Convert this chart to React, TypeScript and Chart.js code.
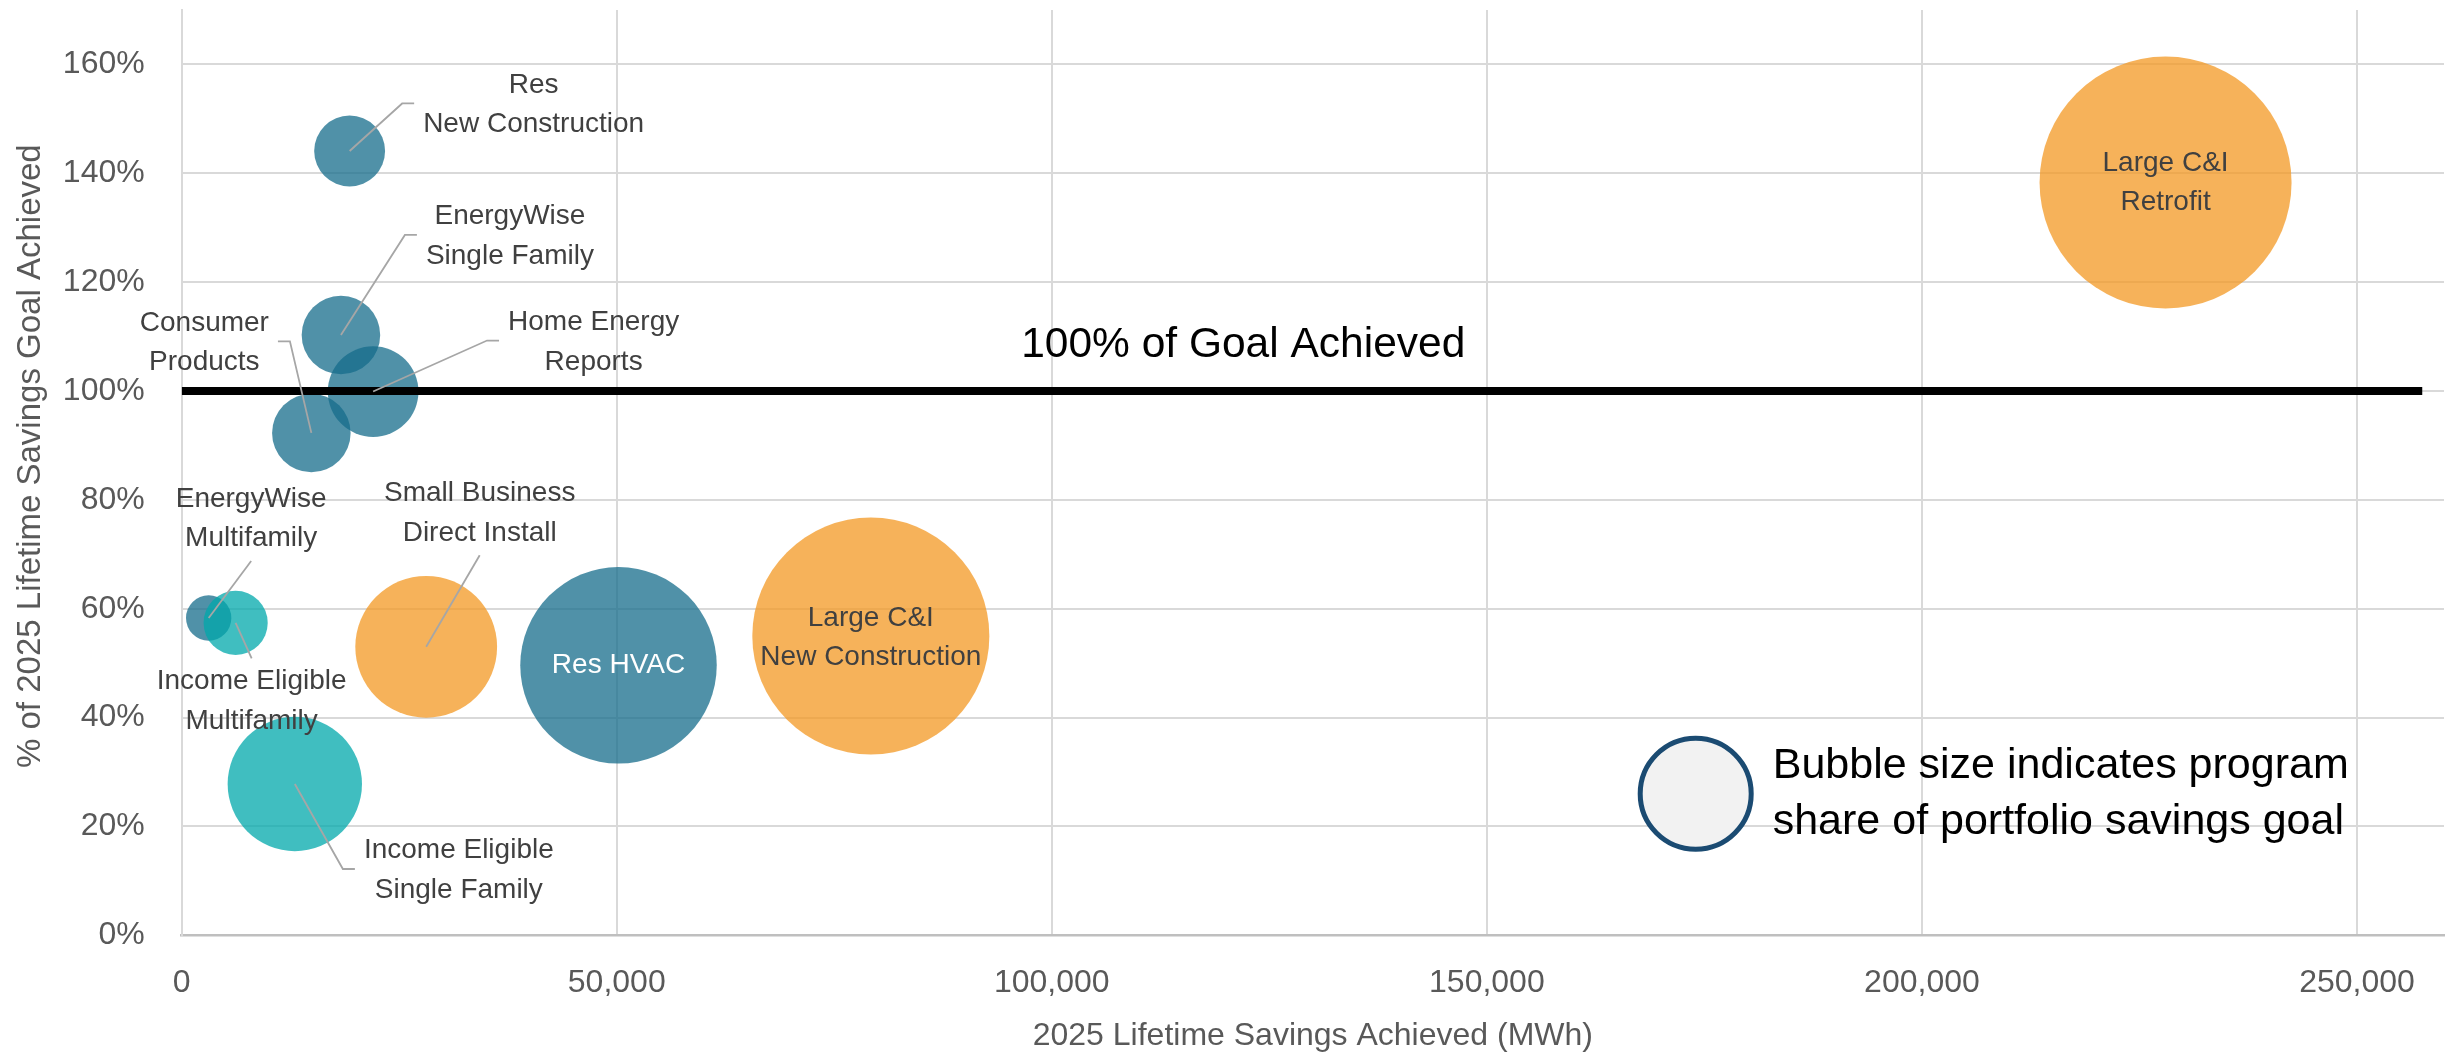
import React, { useEffect, useRef } from 'react';
import { Chart, registerables } from 'chart.js';

Chart.register(...registerables);

// ---------- DATA ----------
const programLabels: string[][] = [
  ['Res', 'New Construction'],
  ['EnergyWise', 'Single Family'],
  ['Home Energy', 'Reports'],
  ['Consumer', 'Products'],
  ['EnergyWise', 'Multifamily'],
  ['Income Eligible', 'Multifamily'],
  ['Small Business', 'Direct Install'],
  ['Res HVAC'],
  ['Large C&I', 'New Construction'],
  ['Income Eligible', 'Single Family'],
  ['Large C&I', 'Retrofit'],
];
const programSector = ['res', 'res', 'res', 'res', 'res', 'ie', 'ci', 'res', 'ci', 'ie', 'ci'];
const savingsMWh = [19300, 18300, 22000, 14900, 3100, 6200, 28100, 50200, 79200, 13000, 228000];
const pctOfGoal = [1.441, 1.103, 0.999, 0.923, 0.583, 0.574, 0.53, 0.496, 0.55, 0.278, 1.383];
const shareOfPortfolioGoal = [2.2, 2.7, 3.6, 2.7, 0.9, 1.8, 8.8, 16.9, 24.6, 7.9, 27.8];

const goalLineX = [0, 257500];
const goalLineY = [1, 1];
const goalLabelText = '100% of Goal Achieved';
const goalLabelX = 122000;

const xTickValues = [0, 50000, 100000, 150000, 200000, 250000];
const yTickValues = [0, 0.2, 0.4, 0.6, 0.8, 1.0, 1.2, 1.4, 1.6];

const legendText = ['Bubble size indicates program', 'share of portfolio savings goal'];
const legendAnchor = { x: 174000, y: 0.26 };

const xTitle = '2025 Lifetime Savings Achieved (MWh)';
const yTitle = '% of 2025 Lifetime Savings Goal Achieved';

// ---------- STYLE ----------
const W = 2458;
const H = 1052;
const FONT = "'Liberation Sans', Arial, Helvetica, sans-serif";
const sectorColor: Record<string, string> = {
  res: 'rgba(22,108,139,0.75)',
  ci: 'rgba(243,152,35,0.75)',
  ie: 'rgba(0,168,171,0.75)',
};
const sectorOrder: Record<string, number> = { ie: 1, ci: 2, res: 3 };
const R_MAX = 126;
const LABEL_SIZE = 28;
const LABEL_LINE = 39.5;
const LABEL_COLOR = '#404040';
const LEADER_COLOR = '#a6a6a6';

// label placement relative to bubble centre (px)
const labelPlacement = [
  { dx: 184, dy: -46, mode: 'right' },
  { dx: 169, dy: -98.5, mode: 'right' },
  { dx: 220.5, dy: -49.5, mode: 'right' },
  { dx: -107, dy: -90, mode: 'left' },
  { dx: 42.5, dy: -99, mode: 'above' },
  { dx: 16, dy: 78.5, mode: 'below' },
  { dx: 53.5, dy: -133.5, mode: 'above' },
  { dx: 0, dy: 0, mode: 'center', color: '#ffffff' },
  { dx: 0, dy: 2, mode: 'center' },
  { dx: 164, dy: 86.5, mode: 'right' },
  { dx: 0, dy: 0, mode: 'center' },
];

const maxShare = Math.max(...shareOfPortfolioGoal);
const radiusFor = (share: number) => R_MAX * Math.sqrt(share / maxShare);

function drawLabel(ctx: CanvasRenderingContext2D, cx: number, cy: number, lines: string[], place: any) {
  const lx = cx + place.dx;
  const ly = cy + place.dy;
  ctx.font = `${LABEL_SIZE}px ${FONT}`;
  const w = Math.max(...lines.map((l) => ctx.measureText(l).width));
  if (place.mode !== 'center') {
    ctx.beginPath();
    ctx.strokeStyle = LEADER_COLOR;
    ctx.lineWidth = 1.8;
    ctx.moveTo(cx, cy);
    if (place.mode === 'right') {
      const near = lx - w / 2 - 9;
      const far = near - 12;
      ctx.lineTo(far, ly - 1.5);
      ctx.lineTo(near, ly - 1.5);
    } else if (place.mode === 'left') {
      const near = lx + w / 2 + 9;
      const far = near + 12;
      ctx.lineTo(far, ly - 1.5);
      ctx.lineTo(near, ly - 1.5);
    } else if (place.mode === 'above') {
      ctx.lineTo(lx, ly + 42);
    } else if (place.mode === 'below') {
      ctx.lineTo(lx, ly - 43);
    }
    ctx.stroke();
  }
  ctx.fillStyle = place.color || LABEL_COLOR;
  ctx.textAlign = 'center';
  ctx.textBaseline = 'middle';
  const n = lines.length;
  lines.forEach((l, k) => ctx.fillText(l, lx, ly + (k - (n - 1) / 2) * LABEL_LINE));
}

const annotationPlugin = {
  id: 'annotationPlugin',
  afterDatasetsDraw(chart: any) {
    const ctx: CanvasRenderingContext2D = chart.ctx;
    const xs = chart.scales.x;
    const ys = chart.scales.y;
    const area = chart.chartArea;
    ctx.save();

    // y axis title
    ctx.save();
    ctx.translate(30.8, (area.top + area.bottom) / 2 - 16.5);
    ctx.rotate(-Math.PI / 2);
    ctx.font = `33px ${FONT}`;
    ctx.fillStyle = '#595959';
    ctx.textAlign = 'center';
    ctx.textBaseline = 'middle';
    ctx.fillText(yTitle, 0, 0);
    ctx.restore();

    // bubble labels + leader lines
    chart.data.datasets.forEach((ds: any, di: number) => {
      if (ds.type === 'scatter') return;
      const meta = chart.getDatasetMeta(di);
      ds.data.forEach((pt: any, j: number) => {
        const el = meta.data[j];
        drawLabel(ctx, el.x, el.y, programLabels[pt.idx], labelPlacement[pt.idx]);
      });
    });

    // goal label
    ctx.font = `42.5px ${FONT}`;
    ctx.fillStyle = '#000000';
    ctx.textAlign = 'center';
    ctx.textBaseline = 'middle';
    ctx.fillText(goalLabelText, xs.getPixelForValue(goalLabelX), ys.getPixelForValue(goalLineY[0]) - 46);

    // bubble-size legend
    const lx = xs.getPixelForValue(legendAnchor.x);
    const ly = ys.getPixelForValue(legendAnchor.y);
    ctx.beginPath();
    ctx.arc(lx, ly, 55.5, 0, Math.PI * 2);
    ctx.fillStyle = '#f2f2f2';
    ctx.fill();
    ctx.lineWidth = 5;
    ctx.strokeStyle = '#1b4b72';
    ctx.stroke();
    ctx.font = `43px ${FONT}`;
    ctx.fillStyle = '#000000';
    ctx.textAlign = 'left';
    ctx.textBaseline = 'middle';
    ctx.fillText(legendText[0], lx + 77, ly - 28);
    ctx.fillText(legendText[1], lx + 77, ly + 28.5);

    ctx.restore();
  },
};

export default function App() {
  const ref = useRef<HTMLCanvasElement>(null);

  useEffect(() => {
    document.body.style.margin = '0';
    const canvas = ref.current;
    if (!canvas) return;

    const sectors = ['ie', 'ci', 'res'];
    const bubbleSets = sectors.map((s) => ({
      type: 'bubble' as const,
      label: s,
      order: sectorOrder[s],
      backgroundColor: sectorColor[s],
      borderWidth: 0,
      hoverBorderWidth: 0,
      data: programSector
        .map((sec, i) => ({ sec, i }))
        .filter((o) => o.sec === s)
        .map(({ i }) => ({ x: savingsMWh[i], y: pctOfGoal[i], r: radiusFor(shareOfPortfolioGoal[i]), idx: i })),
    }));

    const goalSet = {
      type: 'scatter' as const,
      label: 'goal',
      order: 0,
      showLine: true,
      borderColor: '#000000',
      borderWidth: 8,
      borderCapStyle: 'butt',
      pointRadius: 0,
      pointHoverRadius: 0,
      data: goalLineX.map((x, i) => ({ x, y: goalLineY[i] })),
    };

    const chart = new Chart(canvas, {
      type: 'bubble',
      data: { datasets: [goalSet as any, ...(bubbleSets as any)] },
      options: {
        responsive: false,
        animation: false,
        devicePixelRatio: 1,
        events: [],
        layout: { autoPadding: false, padding: { left: 0, top: 10, right: 14, bottom: 0 } },
        plugins: { legend: { display: false }, tooltip: { enabled: false } },
        scales: {
          x: {
            type: 'linear',
            min: 0,
            max: 260000,
            afterBuildTicks: (s: any) => {
              s.ticks = xTickValues.map((v) => ({ value: v }));
            },
            afterFit: (s: any) => {
              s.height = 116.7;
              s.paddingLeft = 0;
              s.paddingRight = 0;
            },
            grid: { color: '#d9d9d9', lineWidth: 2, drawTicks: false },
            border: { display: true, color: '#bfbfbf', width: 2.5 },
            ticks: {
              padding: 28.5,
              color: '#595959',
              font: { family: FONT, size: 32 },
              maxRotation: 0,
              autoSkip: false,
              callback: (v: any) => Number(v).toLocaleString('en-US'),
            },
            title: {
              display: true,
              text: xTitle,
              color: '#595959',
              font: { family: FONT, size: 32, lineHeight: 1 },
              padding: 0,
            },
          },
          y: {
            type: 'linear',
            min: 0,
            max: 1.7,
            afterBuildTicks: (s: any) => {
              s.ticks = yTickValues.map((v) => ({ value: v }));
            },
            afterFit: (s: any) => {
              s.width = 181.7;
              s.paddingTop = 0;
              s.paddingBottom = 0;
            },
            grid: { color: '#d9d9d9', lineWidth: 2, drawTicks: false },
            border: { display: true, color: '#d9d9d9', width: 2 },
            ticks: {
              padding: 37,
              color: '#595959',
              font: { family: FONT, size: 32 },
              autoSkip: false,
              callback: (v: any) => `${Math.round(Number(v) * 100)}%`,
            },
            title: { display: false },
          },
        },
      } as any,
      plugins: [annotationPlugin],
    });

    return () => chart.destroy();
  }, []);

  return (
    <div style={{ position: 'absolute', left: 0, top: 0, width: W, height: H, background: '#ffffff' }}>
      <canvas ref={ref} width={W} height={H} style={{ width: W, height: H, display: 'block' }} />
    </div>
  );
}
